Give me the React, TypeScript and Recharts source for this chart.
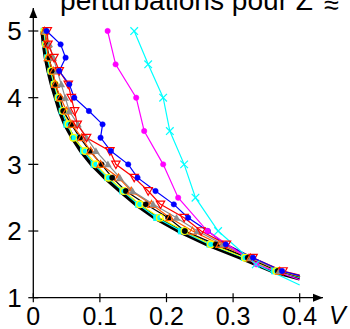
import React from 'react';
import { ComposedChart, Line, XAxis, YAxis, ReferenceDot } from 'recharts';

// Z levels (vertical axis) at which the series are sampled
const zFine = [5.0, 4.8, 4.6, 4.4, 4.2, 4.0, 3.8, 3.6, 3.4, 3.2, 3.0, 2.8, 2.6, 2.4, 2.2, 2.0, 1.8, 1.6, 1.4];
const zCoarse = [5.0, 4.5, 4.0, 3.5, 3.0, 2.5, 2.0, 1.5];
const vEnd = 0.4;

// V values (horizontal axis)
const vRef = [0.014, 0.016, 0.019, 0.023, 0.028, 0.034, 0.040, 0.048, 0.059, 0.072, 0.088, 0.108, 0.131, 0.155, 0.183, 0.219, 0.262, 0.312, 0.360];
const zRefEnd = 1.29;
const vCyanSq = [0.016, 0.018, 0.021, 0.026, 0.031, 0.037, 0.043, 0.050, 0.062, 0.075, 0.091, 0.1115, 0.134, 0.1575, 0.185, 0.222, 0.265, 0.3165, 0.362];
const zCyanSqEnd = 1.3;
const vYellow = [0.017, 0.019, 0.023, 0.027, 0.032, 0.038, 0.045, 0.053, 0.060, 0.078, 0.094, 0.113, 0.136, 0.160, 0.190, 0.227, 0.2665, 0.318, 0.365];
const zYellowEnd = 1.31;
const vBlackDot = [0.018, 0.020, 0.024, 0.028, 0.033, 0.040, 0.045, 0.057, 0.070, 0.085, 0.1025, 0.1185, 0.139, 0.169, 0.2025, 0.2275, 0.274, 0.322, 0.367];
const zBlackDotEnd = 1.31;
const vOrange = [0.017, 0.021, 0.022, 0.030, 0.033, 0.041, 0.050, 0.058, 0.0725, 0.086, 0.101, 0.128, 0.147, 0.1775, 0.205, 0.239, 0.280, 0.326, 0.370];
const zOrangeEnd = 1.32;
const vGray = [0.018, 0.024, 0.030, 0.036, 0.042, 0.048, 0.054, 0.067, 0.080, 0.094, 0.112, 0.130, 0.149, 0.180, 0.215, 0.2465, 0.285, 0.327, 0.370];
const zGrayEnd = 1.33;
const vRed = [0.021, 0.022, 0.031, 0.039, 0.0525, 0.057, 0.062, 0.066, 0.080, 0.115, 0.124, 0.1515, 0.1725, 0.191, 0.2265, 0.252, 0.290, 0.330, 0.375];
const zRedEnd = 1.34;
const vBlue = [0.020, 0.041, 0.0485, 0.039, 0.054, 0.0615, 0.0835, 0.104, 0.101, 0.1165, 0.1425, 0.1565, 0.1835, 0.211, 0.2325, 0.262, 0.289, 0.330, 0.3735];
const zBlueEnd = 1.33;
const vMagenta = [0.1116, 0.1236, 0.1545, 0.1665, 0.195, 0.2175, 0.2615, 0.335];
const zMagentaEnd = 1.27;
const vCyanX = [0.1515, 0.1725, 0.195, 0.205, 0.2265, 0.2435, 0.2775, 0.334];
const zCyanXEnd = 1.19;

const xTicks = [0, 0.1, 0.2, 0.3, 0.4];
const yTicks = [1, 2, 3, 4, 5];
const titleText = 'perturbations pour Z';

const build = (zs: number[], vs: number[], zEnd: number) => [
  ...zs.map((z, i) => ({ v: vs[i], z })),
  { v: vEnd, z: zEnd },
];

const FONT = '"Liberation Sans", "DejaVu Sans", sans-serif';

type Kind = 'dot' | 'ocircle' | 'triUp' | 'otriUp' | 'otriDown' | 'square' | 'cross';

const makeDot = (kind: Kind, color: string, n: number) => (p: any) => {
  const { cx, cy, index } = p;
  const key = `d-${kind}-${color}-${index}`;
  if (index >= n - 1 || cx == null || cy == null) return <g key={key} />;
  switch (kind) {
    case 'dot':
      return <circle key={key} cx={cx} cy={cy} r={2.7} fill={color} stroke={color} strokeWidth={0.5} />;
    case 'ocircle':
      return <circle key={key} cx={cx} cy={cy} r={3.3} fill="none" stroke={color} strokeWidth={1.4} />;
    case 'triUp':
      return <polygon key={key} points={`${cx - 3.8},${cy + 3} ${cx + 3.8},${cy + 3} ${cx},${cy - 3.8}`} fill={color} />;
    case 'otriUp':
      return <polygon key={key} points={`${cx - 3.8},${cy + 3} ${cx + 3.8},${cy + 3} ${cx},${cy - 3.8}`} fill="none" stroke={color} strokeWidth={1.2} />;
    case 'otriDown':
      return <polygon key={key} points={`${cx - 4.2},${cy - 3.3} ${cx + 4.2},${cy - 3.3} ${cx},${cy + 4.2}`} fill="none" stroke={color} strokeWidth={1.2} />;
    case 'square':
      return <rect key={key} x={cx - 3.3} y={cy - 3.3} width={6.6} height={6.6} fill={color} />;
    case 'cross':
      return (
        <g key={key} stroke={color} strokeWidth={1.2}>
          <line x1={cx - 3.8} y1={cy - 3.8} x2={cx + 3.8} y2={cy + 3.8} />
          <line x1={cx - 3.8} y1={cy + 3.8} x2={cx + 3.8} y2={cy - 3.8} />
        </g>
      );
  }
  return <g key={key} />;
};

const series = [
  { name: 'ref', data: build(zFine, vRef, zRefEnd), color: '#000000', width: 4.5, kind: null },
  { name: 'cyanSq', data: build(zFine, vCyanSq, zCyanSqEnd), color: '#00ffff', width: 1.2, kind: 'square' },
  { name: 'yellow', data: build(zFine, vYellow, zYellowEnd), color: '#ffff00', width: 1.2, kind: 'ocircle' },
  { name: 'blackDot', data: build(zFine, vBlackDot, zBlackDotEnd), color: '#000000', width: 1.2, kind: 'dot' },
  { name: 'orange', data: build(zFine, vOrange, zOrangeEnd), color: '#ff5a00', width: 1.2, kind: 'otriUp' },
  { name: 'gray', data: build(zFine, vGray, zGrayEnd), color: '#8c8c8c', width: 1.2, kind: 'triUp' },
  { name: 'red', data: build(zFine, vRed, zRedEnd), color: '#ff0000', width: 1.2, kind: 'otriDown' },
  { name: 'blue', data: build(zFine, vBlue, zBlueEnd), color: '#0000ff', width: 1.2, kind: 'dot' },
  { name: 'magenta', data: build(zCoarse, vMagenta, zMagentaEnd), color: '#ff00ff', width: 1.2, kind: 'dot' },
  { name: 'cyanX', data: build(zCoarse, vCyanX, zCyanXEnd), color: '#00ffff', width: 1.2, kind: 'cross' },
];

const XTick = (p: any) => {
  const { x, y, payload } = p;
  return (
    <g>
      <line x1={x} x2={x} y1={y - 4.5} y2={y + 4.5} stroke="#000" strokeWidth={1.2} />
      <text x={x} y={y + 27.5} textAnchor="middle" fontSize={25} fontFamily={FONT} fill="#000">
        {String(payload.value)}
      </text>
    </g>
  );
};

const YTick = (p: any) => {
  const { x, y, payload } = p;
  return (
    <g>
      <line x1={x - 5} x2={x + 5} y1={y} y2={y} stroke="#000" strokeWidth={1.2} />
      <text x={x - 11.5} y={y + 9.3} textAnchor="end" fontSize={26} fontFamily={FONT} fill="#000">
        {String(payload.value)}
      </text>
    </g>
  );
};

const RightArrow = (p: any) => {
  const { cx, cy } = p;
  return <polygon points={`${cx - 10},${cy - 4} ${cx},${cy} ${cx - 10},${cy + 4}`} fill="#000" />;
};
const UpArrow = (p: any) => {
  const { cx, cy } = p;
  return <polygon points={`${cx - 4},${cy + 10} ${cx},${cy} ${cx + 4},${cy + 10}`} fill="#000" />;
};

export default function App() {
  return (
    <div style={{ position: 'absolute', left: 0, top: 0, width: 350, height: 329, background: '#fff' }}>
      <ComposedChart width={350} height={329} margin={{ top: 8, right: 27, left: 0, bottom: 0 }}>
        <XAxis
          type="number"
          dataKey="v"
          domain={[0, 0.435]}
          ticks={xTicks}
          allowDataOverflow
          height={31.3}
          tickSize={0}
          tickMargin={0}
          tick={<XTick />}
          axisLine={{ stroke: '#000', strokeWidth: 1.3 }}
          tickLine={false}
        />
        <YAxis
          type="number"
          dataKey="z"
          domain={[1, 5.345]}
          ticks={yTicks}
          allowDataOverflow
          width={33.3}
          tickSize={0}
          tickMargin={0}
          tick={<YTick />}
          axisLine={{ stroke: '#000', strokeWidth: 1.3 }}
          tickLine={false}
        />
        {series.map((s) => (
          <Line
            key={s.name}
            data={s.data}
            dataKey="z"
            type="linear"
            stroke={s.color}
            strokeWidth={s.width}
            dot={s.kind ? makeDot(s.kind as Kind, s.color, s.data.length) : false}
            activeDot={false}
            isAnimationActive={false}
          />
        ))}
        <ReferenceDot x={0.435} y={1} ifOverflow="visible" shape={RightArrow} />
        <ReferenceDot x={0} y={5.345} ifOverflow="visible" shape={UpArrow} />
      </ComposedChart>
      <svg width={350} height={329} style={{ position: 'absolute', left: 0, top: 0, pointerEvents: 'none' }}>
        <text x={60} y={10} fontSize={27} fontFamily={FONT} fill="#000" textLength={253} lengthAdjust="spacingAndGlyphs">
          {titleText}
        </text>
        <text x={324} y={14} fontSize={27} fontFamily={FONT} fill="#000">≈</text>
        <text x={329} y={324} fontSize={25} fontFamily={FONT} fontStyle="italic" fill="#000">V</text>
      </svg>
    </div>
  );
}
